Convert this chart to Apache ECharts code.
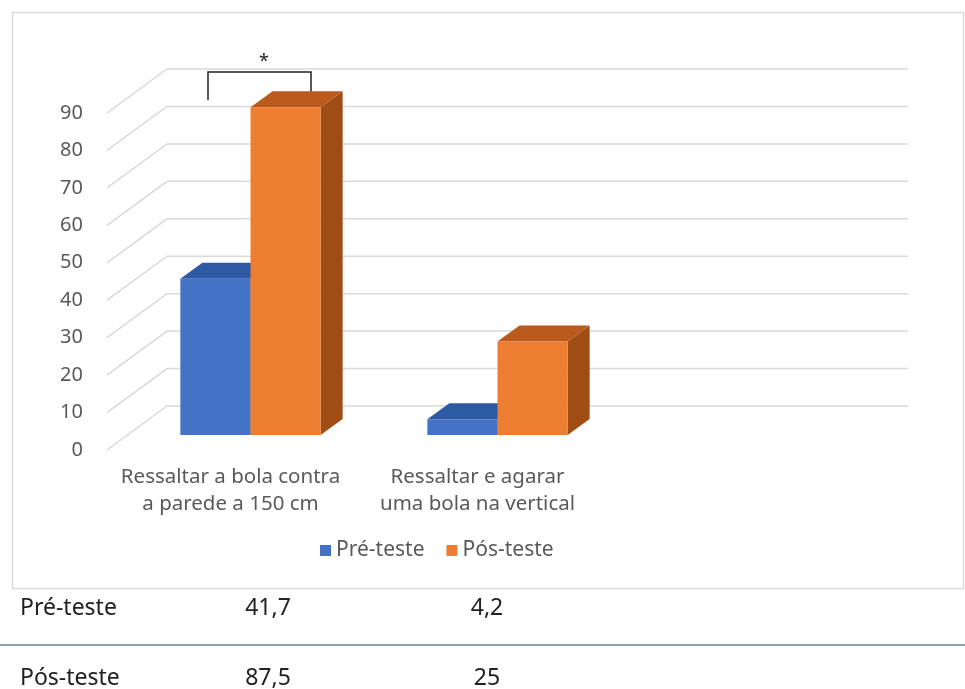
<!DOCTYPE html>
<html>
<head>
<meta charset="utf-8">
<script src="https://cdn.jsdelivr.net/npm/echarts@6/dist/echarts.min.js"></script>
<style>
html, body { margin: 0; padding: 0; background: #fff; }
#chart { width: 965px; height: 689px; }
</style>
</head>
<body>
<div id="chart"></div>
<script>
// dados
const categories = ['Ressaltar a bola contra\na parede a 150 cm', 'Ressaltar e agarar\numa bola na vertical', ''];
const seriesNames = ['Pré-teste', 'Pós-teste'];
const preTeste = [41.7, 4.2];
const posTeste = [87.5, 25];
const yTicks = [0, 10, 20, 30, 40, 50, 60, 70, 80, 90];

// aparência 3D
const wallDepth = [60, -44];
const barShift = [20, -15];
const barDepth = [22, -16];
const font = "'Noto Sans', 'Open Sans', sans-serif";

const palette = [
    {front: '#4472C4', top: '#2E5AA3', side: '#2B4F8E'},
    {front: '#ED7D31', top: '#BA5A1C', side: '#A04C15'}
];

function barRenderer(idx) {
    const colors = palette[idx];
    return function (params, api) {
        const cat = api.value(0);
        const val = api.value(1);
        const base = api.coord([cat, 0]);
        const top = api.coord([cat, val]);
        const band = api.size([1, 0])[0];
        const w = band * 0.284;
        const x0 = base[0] + barShift[0] + (idx === 0 ? -w : 0);
        const x1 = x0 + w;
        const yb = base[1] + barShift[1];
        const yt = top[1] + barShift[1];
        const dx = barDepth[0], dy = barDepth[1];
        return {
            type: 'group',
            children: [
                {type: 'polygon', shape: {points: [[x1, yb], [x1 + dx, yb + dy], [x1 + dx, yt + dy], [x1, yt]]}, style: {fill: colors.side}},
                {type: 'polygon', shape: {points: [[x0, yt], [x0 + dx, yt + dy], [x1 + dx, yt + dy], [x1, yt]]}, style: {fill: colors.top}},
                {type: 'rect', shape: {x: x0, y: yt, width: w, height: yb - yt}, style: {fill: colors.front}}
            ]
        };
    };
}

function wallRenderer(params, api) {
    const p = api.coord([0, api.value(1)]);
    const cs = params.coordSys;
    const xl = cs.x, xr = cs.x + cs.width, y = p[1];
    return {
        type: 'polyline',
        shape: {points: [[xl, y], [xl + wallDepth[0], y + wallDepth[1]], [xr + wallDepth[0], y + wallDepth[1]]]},
        style: {stroke: '#d9d9d9', lineWidth: 1.5, fill: null}
    };
}

// tabela abaixo do gráfico
const fmt = v => String(v).replace('.', ',');
const tableRows = [[seriesNames[0], preTeste], [seriesNames[1], posTeste]];
const rowY = [608, 678];
const colX = [268, 487];
const tableText = [];
tableRows.forEach((row, r) => {
    tableText.push({type: 'text', x: 20, y: rowY[r],
        style: {text: row[0], font: '23px ' + font, fill: '#222', textVerticalAlign: 'middle'}});
    row[1].forEach((v, c) => {
        tableText.push({type: 'text', x: colX[c], y: rowY[r],
            style: {text: fmt(v), font: '23px ' + font, fill: '#222', textAlign: 'center', textVerticalAlign: 'middle'}});
    });
});

const myChart = echarts.init(document.getElementById('chart'));
const option = {
    animation: false,
    backgroundColor: '#fff',
    textStyle: {fontFamily: font},
    grid: {left: 107, right: 117, top: 113, bottom: 239},
    legend: {
        data: seriesNames,
        left: 315, top: 535,
        icon: 'rect', itemWidth: 11, itemHeight: 11, itemGap: 22, itemTextGap: 7,
        textStyle: {fontSize: 21, color: '#595959', fontFamily: font}
    },
    xAxis: {
        type: 'category',
        data: categories,
        axisLine: {show: false},
        axisTick: {show: false},
        axisLabel: {interval: 0, fontSize: 20.5, lineHeight: 27, margin: 14, color: '#595959'}
    },
    yAxis: {
        type: 'value',
        min: 0, max: 90, interval: 10,
        axisLine: {show: false},
        axisTick: {show: false},
        splitLine: {show: false},
        axisLabel: {fontSize: 20, margin: 24, color: '#595959'}
    },
    series: [
        {
            type: 'custom', name: 'wall', silent: true, z: 1,
            renderItem: wallRenderer,
            data: yTicks.map(v => [0, v])
        },
        {
            type: 'custom', name: seriesNames[0], z: 2,
            itemStyle: {color: palette[0].front},
            renderItem: barRenderer(0),
            data: preTeste.map((v, i) => [i, v])
        },
        {
            type: 'custom', name: seriesNames[1], z: 3,
            itemStyle: {color: palette[1].front},
            renderItem: barRenderer(1),
            data: posTeste.map((v, i) => [i, v])
        }
    ],
    graphic: [
        {type: 'rect', shape: {x: 12.5, y: 12.5, width: 951, height: 576}, style: {fill: null, stroke: '#d9d9d9', lineWidth: 1.5}, z: -1},
        {type: 'polyline', shape: {points: [[208, 100], [208, 72], [311, 72], [311, 100]]}, style: {stroke: '#222', lineWidth: 1.5, fill: null}},
        {type: 'text', x: 264, y: 62, style: {text: '*', font: '18px ' + font, fill: '#222', textAlign: 'center', textVerticalAlign: 'middle'}},
        {type: 'line', shape: {x1: 0, y1: 645, x2: 965, y2: 645}, style: {stroke: '#8C9DB5', lineWidth: 2}}
    ].concat(tableText)
};
myChart.setOption(option);
window.addEventListener('resize', function () {
    myChart.resize();
});
</script>
</body>
</html>
